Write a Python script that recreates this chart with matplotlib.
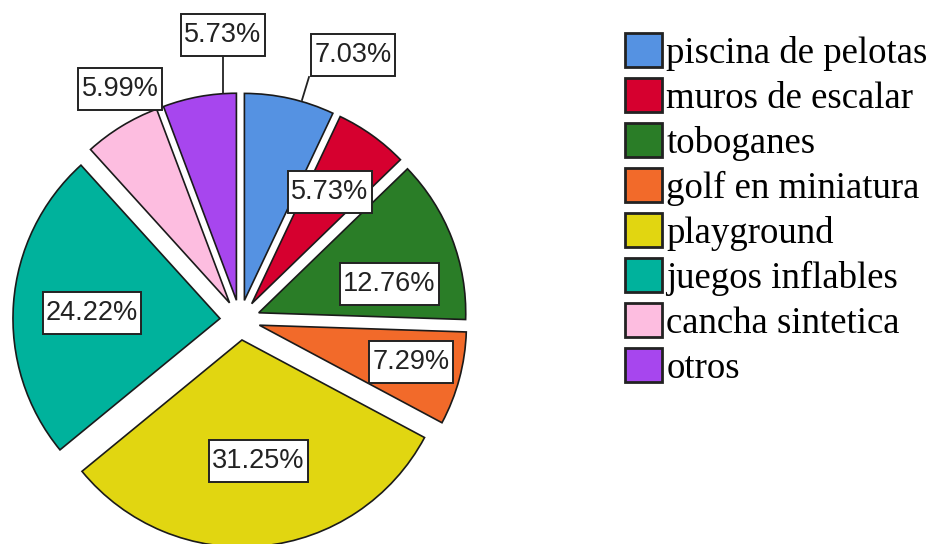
import matplotlib.pyplot as plt

# Data
categories = ["piscina de pelotas", "muros de escalar", "toboganes", "golf en miniatura",
              "playground", "juegos inflables", "cancha sintetica", "otros"]
percentages = [7.03, 5.73, 12.76, 7.29, 31.25, 24.22, 5.99, 5.73]
colors = ["#5592e2", "#d6002f", "#2a7d27", "#f26a2a", "#e1d611", "#00b29c", "#fdbde0", "#a746ee"]

# Label box centres in pixels (from top-left) and optional leader line ends
label_px = [(353, 55), (330, 192), (389, 284), (411, 362), (258, 461), (92, 313), (120, 89), (223, 35)]
leader_px = {0: ((309, 77), (302, 100)), 7: ((223, 57), (223, 93))}

W, H = 936, 544
CX, CY, R = 240, 320, 207   # pie centre and radius in pixels


def to_data(px, py):
    return (px - CX) / R, (CY - py) / R


fig = plt.figure(figsize=(W / 100, H / 100), dpi=100)
ax = fig.add_axes([0, 0, 1, 1])

wedges, _ = ax.pie(percentages, colors=colors, startangle=90, counterclock=False,
                   explode=[0.097] * len(percentages), radius=1,
                   wedgeprops=dict(edgecolor="#1a1a1a", linewidth=1.2))

ax.set_xlim(-CX / R, (W - CX) / R)
ax.set_ylim(-(H - CY) / R, CY / R)
ax.set_aspect("auto")
ax.axis("off")

# leader lines
for i, (p0, p1) in leader_px.items():
    x0, y0 = to_data(*p0)
    x1, y1 = to_data(*p1)
    ax.plot([x0, x1], [y0, y1], color="#222222", lw=1.3, zorder=3)

# percentage labels in boxes
for val, (px, py) in zip(percentages, label_px):
    x, y = to_data(px, py)
    ax.text(x, y, f"{val:.2f}%", ha="center", va="center", fontsize=19.5,
            family="Liberation Sans", color="#222222", zorder=4,
            bbox=dict(boxstyle="square,pad=0.12", mutation_aspect=2.6,
                      fc="white", ec="#222222", lw=1.4))

leg = fig.legend(wedges, categories, loc="upper left",
                 bbox_to_anchor=(625 / W, 1 - 33 / H),
                 prop=dict(family="Liberation Serif", size=26.5),
                 frameon=False, handlelength=1.0, handleheight=1.05,
                 handletextpad=0.12, labelspacing=0.2,
                 borderpad=0, borderaxespad=0)
for h in leg.legend_handles:
    h.set_linewidth(2)
    h.set_edgecolor("#222222")

fig.savefig("out.png", dpi=100)
